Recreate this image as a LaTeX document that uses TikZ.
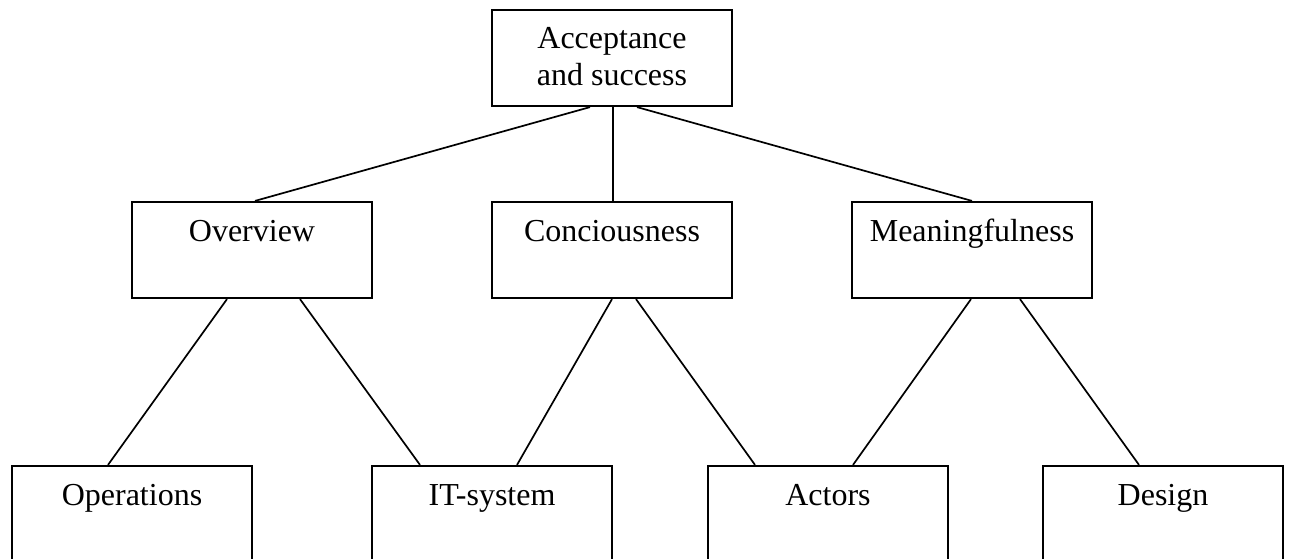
\documentclass[tikz,border=0pt]{standalone}
\usepackage{fontspec}
\setmainfont{Liberation Serif}
\begin{document}
\begin{tikzpicture}[x=1pt,y=-1pt,
  box/.style={draw, line width=2.2pt, rectangle, inner sep=0pt,
    minimum width=240pt, minimum height=96pt},
  lowbox/.style={box, minimum height=130pt},
  lbl/.style={anchor=base, inner sep=0pt, font=\fontsize{32pt}{37pt}\selectfont},
  link/.style={line width=1.7pt}]
\useasboundingbox (0,0) rectangle (1289,558);
\clip (0,0) rectangle (1289,558);
% top level
\node[box] (top) at (612,58) {};
\node[lbl] (topA) at ([yshift=-40pt]top.north) {Acceptance};
\node[lbl] (topB) at ([yshift=-77pt]top.north) {and success};
% middle level
\node[box] (ov) at (252,250) {};
\node[lbl] at ([yshift=-41pt]ov.north) {Overview};
\node[box] (co) at (612,250) {};
\node[lbl] at ([yshift=-41pt]co.north) {Conciousness};
\node[box] (me) at (972,250) {};
\node[lbl] at ([yshift=-41pt]me.north) {Meaningfulness};
% bottom level (runs past the lower edge)
\node[lowbox] (op) at (132,531) {};
\node[lbl] at ([yshift=-41pt]op.north) {Operations};
\node[lowbox] (it) at (492,531) {};
\node[lbl] at ([yshift=-41pt]it.north) {IT-system};
\node[lowbox] (ac) at (828,531) {};
\node[lbl] at ([yshift=-41pt]ac.north) {Actors};
\node[lowbox] (de) at (1163,531) {};
\node[lbl] at ([yshift=-41pt]de.north) {Design};
% connectors
\draw[link] ([xshift=-22pt]top.south) -- ([xshift=3pt]ov.north);
\draw[link] ([xshift=1pt]top.south) -- ([xshift=1pt]co.north);
\draw[link] ([xshift=25pt]top.south) -- (me.north);
\draw[link] ([xshift=-25pt]ov.south) -- ([xshift=-24pt]op.north);
\draw[link] ([xshift=48pt]ov.south) -- ([xshift=-72pt]it.north);
\draw[link] (co.south) -- ([xshift=25pt]it.north);
\draw[link] ([xshift=24pt]co.south) -- ([xshift=-73pt]ac.north);
\draw[link] ([xshift=-1pt]me.south) -- ([xshift=25pt]ac.north);
\draw[link] ([xshift=48pt]me.south) -- ([xshift=-24pt]de.north);
\end{tikzpicture}
\end{document}
